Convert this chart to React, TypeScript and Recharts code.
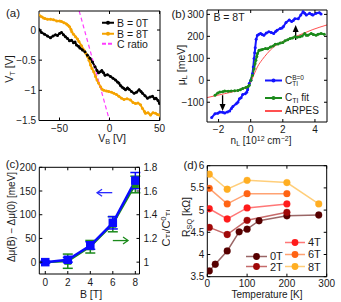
import React from 'react';
import { LineChart, Line, XAxis, YAxis, ReferenceLine, ErrorBar } from 'recharts';

const FONT = '"Liberation Sans", Arial, Helvetica, sans-serif';
const INK = '#1a1a1a';

// (a) top gate voltage vs back gate voltage
const a0T: [number, number][] = [
  [-70.5, 0.01], [-68, -0.04], [-65, -0.07], [-62, -0.1], [-59, -0.13], [-56.5, -0.1], [-54, -0.08],
  [-52, -0.09], [-50, -0.06], [-48, -0.04], [-46, -0.08], [-44, -0.11], [-42, -0.14], [-40, -0.18],
  [-38, -0.17], [-36, -0.21], [-34.5, -0.2], [-33, -0.25], [-31, -0.27], [-29.6, -0.3], [-27, -0.33],
  [-24.6, -0.36], [-22, -0.42], [-19.5, -0.47], [-17, -0.53], [-14.5, -0.61], [-12.5, -0.67],
  [-11, -0.71], [-9, -0.69], [-7.7, -0.67], [-6, -0.71], [-4.4, -0.75], [-2, -0.74], [1, -0.77],
  [3.5, -0.8], [6, -0.83], [8, -0.86], [9.4, -0.88], [11, -0.92], [12.8, -0.95], [14.5, -0.97],
  [16, -0.99], [18, -0.96], [19.5, -0.98], [22, -1.02], [24.6, -1.05], [27, -1.03], [29.6, -0.99],
  [31.5, -1.02], [33, -1.05], [35.5, -1.09], [38, -1.13], [40.5, -1.11], [43, -1.1], [45, -1.14],
  [46.5, -1.13], [48.5, -1.17], [50, -1.22],
];
const a8T: [number, number][] = [
  [-70.5, 0.25], [-68, 0.22], [-66, 0.2], [-64.5, 0.19], [-62, 0.18], [-59, 0.18], [-56, 0.17],
  [-52.7, 0.15], [-50, 0.15], [-48, 0.14], [-45.5, 0.12], [-43, 0.1], [-41.5, 0.08], [-40, 0.055],
  [-38.5, 0.01], [-37.7, -0.03], [-36, -0.07], [-34, -0.11], [-32, -0.15], [-30.6, -0.19], [-28, -0.26],
  [-25.6, -0.33], [-24, -0.38], [-22, -0.44], [-20.5, -0.5], [-19, -0.58], [-17.5, -0.64], [-15.8, -0.69],
  [-14, -0.77], [-12.5, -0.83], [-11, -0.88], [-9, -0.94], [-7.5, -0.98], [-5.7, -1.0], [-3, -1.01],
  [-0.7, -1.02], [2, -1.03], [4.4, -1.05], [7, -1.07], [9.4, -1.1], [12, -1.13], [14.5, -1.15],
  [17.5, -1.14], [21, -1.16], [23.5, -1.2], [26, -1.22], [28.5, -1.21], [31, -1.24], [33, -1.3],
  [35, -1.35], [36, -1.38], [38.5, -1.37], [41, -1.41], [43.5, -1.37], [46, -1.38], [48, -1.4], [50, -1.41],
];
const aRatio: [number, number][] = [[-30.3, 0.315], [0, -1.5]];
const aTicksX = [-50, 0, 50];
const aTicksY = [-1.5, -1, -0.5, 0];

// (b) chemical potential vs density at 8T
const bCB0: [number, number][] = [
  [-2.43, -170], [-2.22, -152], [-2.05, -150], [-1.92, -145], [-1.75, -146], [-1.62, -149], [-1.45, -144],
  [-1.31, -140], [-1.2, -128], [-1.11, -119], [-0.9, -107], [-0.8, -100], [-0.7, -84], [-0.6, -80],
  [-0.5, -65], [-0.34, -61], [-0.25, -55], [-0.19, -43], [-0.09, -15], [0.01, 0], [0.11, 30], [0.16, 60],
  [0.21, 99], [0.25, 125], [0.28, 148], [0.34, 187], [0.42, 205], [0.52, 210], [0.62, 213], [0.72, 208],
  [0.82, 205], [0.97, 215], [1.13, 221], [1.28, 218], [1.43, 213], [1.55, 222], [1.64, 228], [1.84, 236],
  [1.95, 238], [2.04, 245], [2.2, 263], [2.4, 275], [2.55, 268], [2.65, 272], [2.75, 280], [2.96, 280],
  [3.12, 297], [3.26, 312], [3.36, 305], [3.46, 297], [3.67, 305], [3.8, 300], [3.87, 297], [4.07, 305],
  [4.28, 308], [4.38, 302],
];
const bFit: [number, number][] = [
  [-2.22, -68], [-2.05, -58], [-1.92, -53], [-1.75, -52], [-1.62, -49], [-1.4, -50], [-1.21, -49],
  [-1.0, -48], [-0.8, -46], [-0.65, -43], [-0.5, -38], [-0.3, -33], [-0.18, -30], [-0.09, -23], [0.01, 0],
  [0.11, 23], [0.21, 53], [0.27, 75], [0.32, 91], [0.38, 108], [0.42, 122], [0.52, 137], [0.62, 138],
  [0.72, 140], [0.92, 145], [1.05, 143], [1.23, 152], [1.4, 156], [1.53, 164], [1.7, 165], [1.84, 170],
  [2.0, 172], [2.14, 180], [2.3, 184], [2.45, 190], [2.6, 192], [2.75, 198], [2.9, 196], [3.06, 198],
  [3.2, 202], [3.36, 213], [3.46, 205], [3.56, 205], [3.77, 213], [3.9, 208], [4.07, 205], [4.2, 210],
  [4.38, 213], [4.58, 210],
];
const bArpes: [number, number][] = [
  [-2.72, -79], [-1.62, -61], [-0.8, -46], [-0.19, -27], [0, -8], [0.21, 27], [0.42, 61], [0.72, 94],
  [1.03, 122], [1.43, 152], [1.84, 170], [2.35, 186], [2.86, 201], [3.36, 216], [3.87, 231], [4.75, 252],
];
const bTicksX = [-2, 0, 2, 4];
const bTicksY = [-100, 0, 100, 200, 300];

// (c) shift vs field
const cB = [0, 2, 4, 6, 8];
const cDmu = [0, 5, 35, 83, 172];
const cDmuErr = [2, 5, 8, 13, 17];
const cRatio = [1.0, 1.008, 1.13, 1.32, 1.655];
const cRatioErr = [0.005, 0.06, 0.053, 0.064, 0.07];
const cTicksX = [0, 2, 4, 6, 8];
const cTicksL = [0, 50, 100, 150, 200];
const cTicksR = [1, 1.2, 1.4, 1.6, 1.8];

// (d) sheet resistance vs temperature
const dT0 = [5, 20, 50, 80, 100, 130, 200, 280];
const dR0 = [3.63, 3.78, 4.08, 4.51, 4.57, 4.76, 4.87, 4.89];
const dT = [5, 50, 100, 200];
const dR2 = [4.61, 4.45, 4.77, 4.95];
const dR4 = [5.03, 4.8, 5.05, 5.14];
const dR6 = [5.49, 5.14, 5.37, 5.37];
const dT8 = [5, 50, 100, 200, 280];
const dR8 = [5.81, 5.47, 5.67, 5.62, 5.14];
const dTicksX = [0, 100, 200, 300];
const dTicksY = [3.5, 4, 4.5, 5, 5.5, 6];

const pts = (p: [number, number][]) => p.map(([x, y]) => ({ x, y }));
const zip = (xs: number[], ys: number[]) => xs.map((x, i) => ({ x, y: ys[i] }));
const cData = cB.map((b, i) => ({ b, dmu: cDmu[i], dmuErr: cDmuErr[i], ratio: cRatio[i], ratioErr: cRatioErr[i] }));

const fmt = (v: number) => (v < 0 ? '\u2212' + Math.abs(v) : String(v));

function tick(side: 'b' | 't' | 'l' | 'r', label = true, gap = 8) {
  return (p: any) => {
    const { x, y, payload } = p;
    const len = 3;
    let l = [x, y, x, y - len];
    let tx = x, ty = y + gap, anchor: 'middle' | 'end' | 'start' = 'middle';
    if (side === 't') l = [x, y, x, y + len];
    if (side === 'l') { l = [x, y, x + len, y]; tx = x - 3; ty = y; anchor = 'end'; }
    if (side === 'r') { l = [x, y, x - len, y]; tx = x + 4; ty = y; anchor = 'start'; }
    return (
      <g>
        <line x1={l[0]} y1={l[1]} x2={l[2]} y2={l[3]} stroke="#000" strokeWidth={1} />
        {label && (
          <text x={tx} y={ty} textAnchor={anchor} dominantBaseline="central" fontSize={10} fontFamily={FONT} fill={INK}>
            {fmt(payload.value)}
          </text>
        )}
      </g>
    );
  };
}

// axes are 1px thick so recharts still draws them; margins below are the box minus that 1px
const axisCommon = { tickSize: 0, tickMargin: 0, tickLine: false, interval: 0 as const, allowDataOverflow: true, axisLine: { stroke: '#000', strokeWidth: 1 } };

function arrow(color: string, filled: boolean) {
  return (p: any) => {
    const { x1, y1, x2, y2 } = p;
    const dx = x2 - x1, dy = y2 - y1;
    const L = Math.hypot(dx, dy) || 1;
    const ux = dx / L, uy = dy / L;
    const hl = filled ? 7 : 5, hw = filled ? 3 : 3.5;
    const bx = x2 - ux * hl, by = y2 - uy * hl;
    const px = -uy * hw, py = ux * hw;
    return (
      <g>
        <line x1={x1} y1={y1} x2={filled ? bx : x2} y2={filled ? by : y2} stroke={color} strokeWidth={1.3} />
        {filled ? (
          <polygon points={`${x2},${y2} ${bx + px},${by + py} ${bx - px},${by - py}`} fill={color} />
        ) : (
          <polyline points={`${bx + px},${by + py} ${x2},${y2} ${bx - px},${by - py}`} fill="none" stroke={color} strokeWidth={1.3} />
        )}
      </g>
    );
  };
}

function square(color: string, s: number) {
  return (p: any) => (
    <rect key={p.index} x={p.cx - s / 2} y={p.cy - s / 2} width={s} height={s} fill={color} stroke={color} />
  );
}

function Txt({ x, y, size = 10, rot = false, children }: { x: number; y: number; size?: number; rot?: boolean; children: React.ReactNode }) {
  return (
    <div
      style={{
        position: 'absolute', left: x, top: y, whiteSpace: 'nowrap', fontSize: size, lineHeight: 1, color: INK,
        fontFamily: FONT, transform: `translate(-50%, -50%)${rot ? ' rotate(-90deg)' : ''}`,
      }}
    >
      {children}
    </div>
  );
}

function Key({ x, y, w, color, dash, marker, size = 10, children }: {
  x: number; y: number; w: number; color: string; dash?: string; marker?: 'dot' | 'circle'; size?: number; children: React.ReactNode;
}) {
  return (
    <div style={{ position: 'absolute', left: x, top: y, transform: 'translateY(-50%)', display: 'flex', alignItems: 'center', fontFamily: FONT, fontSize: size, color: INK, whiteSpace: 'nowrap', lineHeight: 1 }}>
      <svg width={w} height={10} style={{ display: 'block' }}>
        <line x1={0} y1={5} x2={w} y2={5} stroke={color} strokeWidth={marker === 'circle' ? 1.5 : 2} strokeDasharray={dash} strokeOpacity={marker === 'circle' ? 0.6 : 1} />
        {marker === 'dot' && <circle cx={w / 2} cy={5} r={2} fill={color} />}
        {marker === 'circle' && <circle cx={w / 2} cy={5} r={3.4} fill={color} />}
      </svg>
      <span style={{ marginLeft: 3 }}>{children}</span>
    </div>
  );
}

const sub = (t: string) => <sub style={{ fontSize: '0.7em', verticalAlign: '-0.25em', lineHeight: 0 }}>{t}</sub>;
const sup = (t: string) => <sup style={{ fontSize: '0.7em', verticalAlign: '0.45em', lineHeight: 0 }}>{t}</sup>;

const D_COLORS = ['#560000', '#a00808', '#ff1c1c', '#ff6414', '#ffae22'];

export default function App() {
  return (
    <div style={{ position: 'absolute', left: 0, top: 0, width: 341, height: 302, background: '#fff', overflow: 'hidden' }}>
      {/* (a) */}
      <div style={{ position: 'absolute', left: 0, top: 0, width: 170, height: 150 }}>
        <LineChart width={170} height={150} margin={{ top: 10, left: 38, right: 9, bottom: 28.5 }}>
          <XAxis type="number" dataKey="x" domain={[-70.5, 50.5]} ticks={aTicksX} height={1} tick={tick('b')} {...axisCommon} />
          <XAxis xAxisId="t" orientation="top" type="number" dataKey="x" domain={[-70.5, 50.5]} ticks={aTicksX} height={1} tick={tick('t', false)} {...axisCommon} />
          <YAxis type="number" domain={[-1.5, 0.315]} ticks={aTicksY} width={1} tick={tick('l')} {...axisCommon} />
          <YAxis yAxisId="r" orientation="right" type="number" domain={[-1.5, 0.315]} ticks={aTicksY} width={1} tick={tick('r', false)} {...axisCommon} />
          <Line data={pts(a8T)} dataKey="y" stroke="#f5a300" strokeWidth={2} dot={{ r: 1.5, fill: '#f5a300', stroke: 'none' }} isAnimationActive={false} />
          <Line data={pts(a0T)} dataKey="y" stroke="#000" strokeWidth={2} dot={{ r: 1.5, fill: '#000', stroke: 'none' }} isAnimationActive={false} />
          <Line data={pts(aRatio)} dataKey="y" stroke="#ff3cff" strokeWidth={1.2} strokeDasharray="4 3" dot={false} isAnimationActive={false} />
        </LineChart>
        <Txt x={13} y={14} size={11.5}>(a)</Txt>
        <Txt x={9} y={69} rot size={10.5}>V{sub('T')} [V]</Txt>
        <Txt x={112} y={138} size={10.5}>V{sub('B')} [V]</Txt>
        <Key x={102} y={23} w={12} color="#000" marker="dot" size={10.5}>B = 0T</Key>
        <Key x={102} y={33.5} w={12} color="#f5a300" marker="dot" size={10.5}>B = 8T</Key>
        <Key x={102} y={44} w={12} color="#ff3cff" dash="4 2" size={10.5}>C ratio</Key>
      </div>

      {/* (b) */}
      <div style={{ position: 'absolute', left: 170, top: 0, width: 171, height: 150 }}>
        <LineChart width={171} height={150} margin={{ top: 9, left: 36, right: 13, bottom: 27 }}>
          <XAxis type="number" dataKey="x" domain={[-2.72, 4.75]} ticks={bTicksX} height={1} tick={tick('b', true, 7)} {...axisCommon} />
          <XAxis xAxisId="t" orientation="top" type="number" dataKey="x" domain={[-2.72, 4.75]} ticks={bTicksX} height={1} tick={tick('t', false)} {...axisCommon} />
          <YAxis type="number" domain={[-190, 320]} ticks={bTicksY} width={1} tick={tick('l')} {...axisCommon} />
          <YAxis yAxisId="r" orientation="right" type="number" domain={[-190, 320]} ticks={bTicksY} width={1} tick={tick('r', false)} {...axisCommon} />
          <Line data={pts(bCB0)} dataKey="y" stroke="#1414ff" strokeWidth={2} dot={{ r: 1.5, fill: '#1414ff', stroke: 'none' }} isAnimationActive={false} />
          <Line data={pts(bFit)} dataKey="y" stroke="#1b8a1b" strokeWidth={2} dot={{ r: 1.5, fill: '#1b8a1b', stroke: 'none' }} isAnimationActive={false} />
          <Line data={pts(bArpes)} dataKey="y" type="monotone" stroke="#ff5050" strokeWidth={1} dot={false} isAnimationActive={false} />
          <ReferenceLine segment={[{ x: -1.75, y: -68 }, { x: -1.75, y: -140 }]} shape={arrow('#000', true)} />
          <ReferenceLine segment={[{ x: 2.8, y: 183 }, { x: 2.8, y: 252 }]} shape={arrow('#000', true)} />
        </LineChart>
        <Txt x={8.5} y={15} size={11.5}>(b)</Txt>
        <Txt x={59} y={17} size={10.5}>B = 8T</Txt>
        <Txt x={11} y={65} rot size={10.5}>μ{sub('L')} [meV]</Txt>
        <Txt x={91} y={140.5} size={10}>n{sub('L')} [10{sup('12')} cm{sup('−2')}]</Txt>
        <Key x={95} y={80.5} w={17} color="#1414ff" marker="dot" size={10}>
          C
          <span style={{ display: 'inline-flex', flexDirection: 'column', fontSize: '0.65em', lineHeight: 1, verticalAlign: 'middle' }}>
            <span>B=0</span>
            <span>TI</span>
          </span>
        </Key>
        <Key x={95} y={98} w={17} color="#1b8a1b" marker="dot" size={10}>C{sub('TI')} fit</Key>
        <Key x={95} y={111} w={17} color="#ff5050" size={10}>ARPES</Key>
      </div>

      {/* (c) */}
      <div style={{ position: 'absolute', left: 0, top: 150, width: 170, height: 152, overflow: 'hidden' }}>
        <LineChart width={170} height={152} data={cData} margin={{ top: 16.3, left: 38.3, right: 29.5, bottom: 27 }}>
          <XAxis type="number" dataKey="b" domain={[-0.53, 8.37]} ticks={cTicksX} height={1} tick={tick('b')} {...axisCommon} />
          <XAxis xAxisId="t" orientation="top" type="number" dataKey="b" domain={[-0.53, 8.37]} ticks={cTicksX} height={1} tick={tick('t', false)} {...axisCommon} />
          <YAxis yAxisId="l" type="number" domain={[-25, 200]} ticks={cTicksL} width={1} tick={tick('l')} {...axisCommon} />
          <YAxis yAxisId="r" orientation="right" type="number" domain={[0.9, 1.8]} ticks={cTicksR} width={1} tick={tick('r')} {...axisCommon} />
          <Line yAxisId="r" dataKey="ratio" stroke="#1b8a1b" strokeWidth={2} dot={square('#1b8a1b', 6)} isAnimationActive={false}>
            <ErrorBar dataKey="ratioErr" width={5} stroke="#1b8a1b" strokeWidth={1.5} />
          </Line>
          <Line yAxisId="l" dataKey="dmu" stroke="#0a0aff" strokeWidth={2.5} dot={square('#0a0aff', 7.5)} isAnimationActive={false}>
            <ErrorBar dataKey="dmuErr" width={5} stroke="#0a0aff" strokeWidth={1.5} />
          </Line>
          <ReferenceLine yAxisId="l" segment={[{ x: 5.95, y: 146.5 }, { x: 4.6, y: 146.5 }]} shape={arrow('#2a2aff', false)} />
          <ReferenceLine yAxisId="l" segment={[{ x: 6.0, y: 45.5 }, { x: 7.35, y: 45.5 }]} shape={arrow('#1b8a1b', false)} />
        </LineChart>
        <Txt x={12.5} y={15} size={11.5}>(c)</Txt>
        <Txt x={11.5} y={67} rot size={10}>Δμ(B) − Δμ(0) [meV]</Txt>
        <Txt x={91} y={143.5} size={10.5}>B [T]</Txt>
        <Txt x={166} y={78} rot size={11}>C{sub('TI')}/C{sup('0')}{sub('TI')}</Txt>
      </div>

      {/* (d) */}
      <div style={{ position: 'absolute', left: 170, top: 150, width: 171, height: 152 }}>
        <LineChart width={171} height={152} margin={{ top: 14.7, left: 36.3, right: 13.3, bottom: 24.3 }}>
          <XAxis type="number" dataKey="x" domain={[0, 300]} ticks={dTicksX} height={1} tick={tick('b', true, 6.5)} {...axisCommon} />
          <XAxis xAxisId="t" orientation="top" type="number" dataKey="x" domain={[0, 300]} ticks={dTicksX} height={1} tick={tick('t', false)} {...axisCommon} />
          <YAxis type="number" domain={[3.5, 6]} ticks={dTicksY} width={1} tick={tick('l')} {...axisCommon} />
          <YAxis yAxisId="r" orientation="right" type="number" domain={[3.5, 6]} ticks={dTicksY} width={1} tick={tick('r', false)} {...axisCommon} />
          {[zip(dT0, dR0), zip(dT, dR2), zip(dT, dR4), zip(dT, dR6), zip(dT8, dR8)].map((d, i) => (
            <Line
              key={i}
              data={d}
              dataKey="y"
              stroke={D_COLORS[i]}
              strokeOpacity={0.6}
              strokeWidth={1.5}
              dot={{ r: 3.4, fill: D_COLORS[i], stroke: D_COLORS[i], strokeWidth: 0.5 }}
              isAnimationActive={false}
            />
          ))}
        </LineChart>
        <Txt x={20.5} y={16} size={11.5}>(d)</Txt>
        <Txt x={16} y={67} rot size={10.5}>R{sub('SQ')} [kΩ]</Txt>
        <Txt x={97} y={145} size={10}>Temperature [K]</Txt>
        <Key x={76} y={106} w={21} color={D_COLORS[0]} marker="circle" size={11}>0T</Key>
        <Key x={76} y={116.7} w={21} color={D_COLORS[1]} marker="circle" size={11}>2T</Key>
        <Key x={115} y={92.3} w={20} color={D_COLORS[2]} marker="circle" size={11}>4T</Key>
        <Key x={115} y={104} w={20} color={D_COLORS[3]} marker="circle" size={11}>6T</Key>
        <Key x={115} y={116.7} w={20} color={D_COLORS[4]} marker="circle" size={11}>8T</Key>
      </div>
    </div>
  );
}
